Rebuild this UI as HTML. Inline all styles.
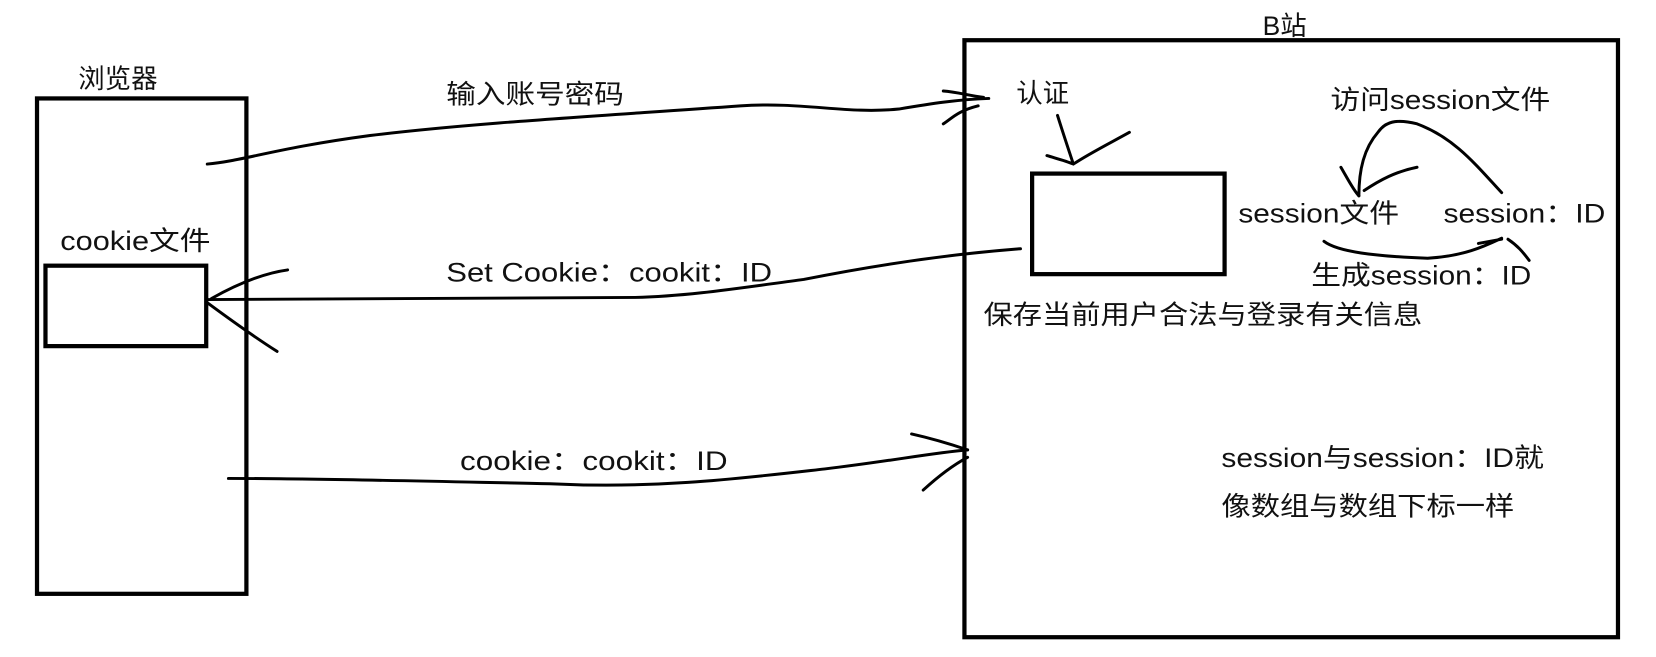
<!DOCTYPE html>
<html><head><meta charset="utf-8"><style>
html,body{margin:0;padding:0;background:#fff;}
svg{display:block;}
text{font-family:"Liberation Sans","Noto Sans CJK SC",sans-serif;font-size:25px;fill:#111;}
</style></head><body>
<svg width="1656" height="657" viewBox="0 0 1656 657" xmlns="http://www.w3.org/2000/svg">
<g transform="scale(1.0575,1.0585)">
<g fill="none" stroke="#000" stroke-width="4">
<rect x="35" y="93" width="198" height="468"/>
<rect x="43" y="251" width="152" height="76"/>
<rect x="912" y="38" width="618" height="564"/>
<rect x="976" y="164" width="182" height="95"/>
</g>
<g fill="none" stroke="#000" stroke-width="2.8" stroke-linecap="round" stroke-linejoin="round">
<path d="M196,155 C230,152 260,140 350,128 C450,116 560,110 700,100 C760,96 800,108 850,103 C880,98 905,94 935,93"/>
<path d="M892,86 C905,87 915,90 930,92 M892,117 C900,112 905,105 925,100"/>
<path d="M965,235 C900,240 830,250 760,264 C700,272 650,280 600,281 L196,283"/>
<path d="M272,255 C250,258 225,268 200,282 M196,286 C215,300 240,318 262,332"/>
<path d="M216,452 C300,452 420,455 520,457 C620,462 700,452 780,443 C840,436 880,428 915,425"/>
<path d="M862,410 C880,414 900,420 915,425 M915,432 C900,440 885,452 873,463"/>
<path d="M1000,109 C1005,125 1010,140 1015,155 M990,147 C1000,150 1008,152 1015,155 C1030,145 1050,135 1068,125"/>
<path d="M1420,182 C1395,155 1375,130 1340,117 C1320,112 1310,115 1303,125 C1290,140 1285,160 1285,185"/>
<path d="M1268,158 C1275,170 1280,180 1285,185 M1290,180 C1305,170 1320,162 1340,158"/>
<path d="M1252,228 C1265,238 1300,242 1350,244 C1385,242 1405,232 1420,225 M1398,230 L1420,226 M1426,226 C1435,232 1440,238 1446,246"/>
</g>
<text x="74" y="83" font-size="26">浏览器</text>
<text x="57" y="236" textLength="142" lengthAdjust="spacingAndGlyphs">cookie文件</text>
<text x="1194" y="33" font-size="26">B站</text>
<text x="422" y="98" textLength="168" lengthAdjust="spacingAndGlyphs" font-size="26">输入账号密码</text>
<text x="422" y="266" textLength="308" lengthAdjust="spacingAndGlyphs">Set Cookie：cookit：ID</text>
<text x="435" y="444" textLength="253" lengthAdjust="spacingAndGlyphs">cookie：cookit：ID</text>
<text x="961" y="97" font-size="26">认证</text>
<text x="930" y="306" textLength="415" lengthAdjust="spacingAndGlyphs" font-size="26">保存当前用户合法与登录有关信息</text>
<text x="1258" y="103" textLength="208" lengthAdjust="spacingAndGlyphs">访问session文件</text>
<text x="1171" y="210" textLength="152" lengthAdjust="spacingAndGlyphs">session文件</text>
<text x="1365" y="210" textLength="153" lengthAdjust="spacingAndGlyphs">session：ID</text>
<text x="1240" y="269" textLength="208" lengthAdjust="spacingAndGlyphs">生成session：ID</text>
<text x="1155" y="441" textLength="305" lengthAdjust="spacingAndGlyphs">session与session：ID就</text>
<text x="1155" y="487" textLength="277" lengthAdjust="spacingAndGlyphs" font-size="26">像数组与数组下标一样</text>
</g>
</svg>
</body></html>
